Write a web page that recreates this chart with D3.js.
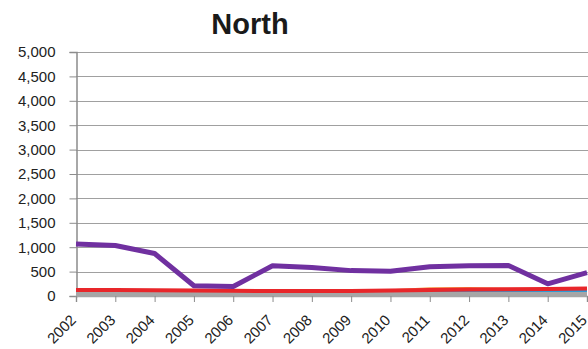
<!DOCTYPE html>
<html><head><meta charset="utf-8">
<script src="https://cdn.jsdelivr.net/npm/d3@7"></script>
<style>body{margin:0;background:#fff}svg{display:block}</style>
</head><body>
<svg id="c" width="588" height="349"></svg>
<script>
const title = "North";
const years = ["2002","2003","2004","2005","2006","2007","2008","2009","2010","2011","2012","2013","2014","2015"];
const yTicks = [0,500,1000,1500,2000,2500,3000,3500,4000,4500,5000];
const grayVals   = [40,40,40,40,40,40,40,40,40,40,40,40,40,40];
const blueVals   = [30,30,30,30,30,35,40,50,75,95,100,100,105,110];
const darkVals   = [70,70,68,65,62,60,62,64,66,70,72,74,76,78];
const orangeVals = [95,95,92,90,88,90,95,100,120,160,165,150,145,150];
const redVals    = [125,122,118,112,108,100,102,104,112,125,135,140,145,155];
const purpleVals = [1065,1035,870,210,195,620,585,520,505,600,620,625,250,480];

const series = [
  {name:"Dark", values:darkVals, color:"#953735", w:2},
  {name:"Orange", values:orangeVals, color:"#f79646", w:2},
  {name:"Blue", values:blueVals, color:"#2e9bd6", w:3},
  {name:"Gray", values:grayVals, color:"#a6a6a6", w:4},
  {name:"Red", values:redVals, color:"#e8262a", w:4},
  {name:"Purple", values:purpleVals, color:"#7030a0", w:5}
];

const svg = d3.select("#c");
const x = d3.scalePoint().domain(years).range([76, 587]);
const y = d3.scaleLinear().domain([0, 5000]).range([296, 52]);
const font = "'Liberation Sans', Arial, sans-serif";

// gridlines
svg.append("g").selectAll("line").data(yTicks.filter(d=>d>0)).join("line")
  .attr("x1", 76).attr("x2", 588)
  .attr("y1", d=>Math.round(y(d))+0.5).attr("y2", d=>Math.round(y(d))+0.5)
  .attr("stroke", "#a0a0a0").attr("stroke-width", 1);

// y axis
const ya = svg.append("g").attr("transform","translate(76.5,0)")
  .call(d3.axisLeft(y).tickValues(yTicks).tickSize(7).tickPadding(14).tickFormat(d3.format(",")));
ya.select(".domain").attr("stroke","#8c8c8c").attr("stroke-width",1.5);
ya.selectAll(".tick line").attr("stroke","#8c8c8c");
ya.selectAll("text").attr("font-family",font).attr("font-size","15px").attr("fill","#222");

// x axis
const xa = svg.append("g").attr("transform","translate(0,296)")
  .call(d3.axisBottom(x).tickSize(6).tickFormat(""));
xa.select(".domain").attr("stroke","#a6a6a6").attr("stroke-width",1.5);
xa.selectAll(".tick line").attr("stroke","#8c8c8c");
svg.append("g").selectAll("text").data(years).join("text")
  .attr("transform", d=>`translate(${x(d)+1},321) rotate(-45)`)
  .attr("text-anchor","end")
  .attr("font-family",font).attr("font-size","15px").attr("fill","#222")
  .text(d=>d);

// lines
const line = d3.line().x((d,i)=>x(years[i])).y(d=>y(d));
svg.append("g").selectAll("path").data(series).join("path")
  .attr("d", d=>line(d.values))
  .attr("fill","none").attr("stroke", d=>d.color).attr("stroke-width", d=>d.w)
  .attr("stroke-linejoin","round");

// title
svg.append("text").attr("x", 250).attr("y", 34).attr("text-anchor","middle")
  .attr("font-family",font).attr("font-weight","bold").attr("font-size","29px").attr("fill","#1a1a1a")
  .text(title);
</script>
</body></html>
